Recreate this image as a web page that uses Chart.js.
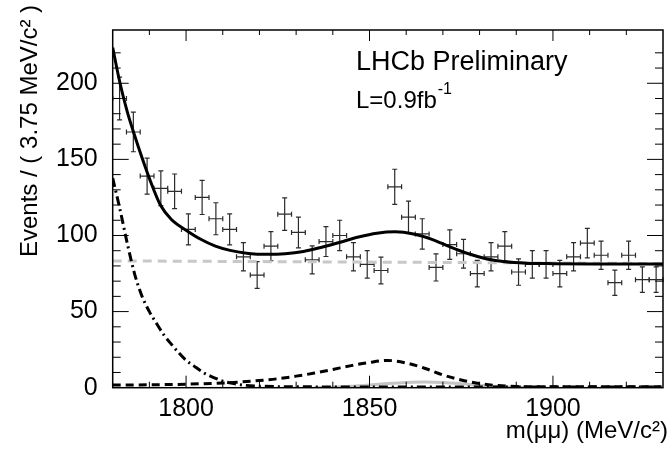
<!DOCTYPE html>
<html>
<head>
<meta charset="utf-8">
<script src="https://cdn.jsdelivr.net/npm/chart.js@4/dist/chart.umd.min.js"></script>
<style>
  html, body { margin: 0; padding: 0; background: #fff; }
  #wrap { width: 669px; height: 449px; }
</style>
</head>
<body>
<div id="wrap"><canvas id="massChart"></canvas></div>
<script>
// binned data, 3.75 MeV bins
const binCenters = [1781.875, 1785.625, 1789.375, 1793.125, 1796.875, 1800.625, 1804.375, 1808.125,
  1811.875, 1815.625, 1819.375, 1823.125, 1826.875, 1830.625, 1834.375, 1838.125, 1841.875, 1845.625,
  1849.375, 1853.125, 1856.875, 1860.625, 1864.375, 1868.125, 1871.875, 1875.625, 1879.375, 1883.125,
  1886.875, 1890.625, 1894.375, 1898.125, 1901.875, 1905.625, 1909.375, 1913.125, 1916.875, 1920.625,
  1924.375, 1928.125];
const binHalf = 1.875;
const events = [190, 168, 139, 131, 129, 104, 125, 111, 104, 86, 74, 93, 114, 102, 84, 96, 100, 86, 81, 77,
  132, 112, 101, 79, 94, 88, 75, 86, 93, 76, 81, 81, 75, 86, 95, 87, 69, 87, 71, 71];
const errors = [14, 13, 11.8, 11.4, 11.4, 10.2, 11.2, 10.5, 10.2, 9.3, 8.8, 9.6, 10.7, 10.1, 9.2, 9.8, 10, 9.3, 9, 8.8,
  11.5, 10.6, 10, 8.9, 9.7, 9.4, 8.7, 9.3, 9.6, 8.7, 9, 9, 8.7, 9.3, 9.7, 9.3, 8.3, 9.3, 8.4, 8.4];

// fit curves
const totalX = [1780, 1782, 1784, 1786, 1788, 1790, 1793, 1796, 1800, 1804, 1808, 1812, 1817, 1822, 1827,
  1832, 1837, 1842, 1847, 1852, 1857, 1862, 1867, 1872, 1877, 1882, 1887, 1893, 1900, 1915, 1930];
const totalY = [223.5, 200, 181, 165.5, 151, 137.5, 120, 110.5, 103.5, 97.5, 93, 90.2, 88.2, 87.6, 88,
  89.5, 92.3, 95.6, 99, 101.5, 102.4, 101, 97.5, 92.5, 88, 84.6, 82.7, 81.8, 81.5, 81.3, 81.2];

const combX = [1780, 1930];
const combY = [83.3, 81.6];

const expoX = [1780, 1782, 1784, 1786, 1788, 1790, 1792, 1794, 1796, 1798, 1800, 1802, 1805, 1808, 1810,
  1813, 1816, 1820, 1830, 1850, 1930];
const expoY = [137.7, 117, 94.5, 74.5, 60, 50, 42, 34.5, 28.5, 23, 18, 14.5, 9.5, 6.2, 4.3,
  2.7, 1.6, 1.0, 0.6, 0.5, 0.5];

const peakX = [1780, 1790, 1800, 1810, 1815, 1820, 1825, 1830, 1835, 1840, 1845, 1850, 1855, 1860, 1865,
  1870, 1875, 1880, 1885, 1890, 1900, 1930];
const peakY = [1.7, 1.9, 2.3, 3.1, 3.8, 4.7, 5.9, 7.6, 9.6, 12, 14.5, 16.6, 17.9, 16.2, 12.8,
  8.4, 5.1, 2.7, 1.4, 0.8, 0.6, 0.6];

const signalX = [1835, 1840, 1845, 1850, 1855, 1860, 1865, 1870, 1875, 1880, 1885, 1890, 1895];
const signalY = [0, 0.3, 0.9, 1.8, 2.7, 3.4, 3.7, 3.4, 2.6, 1.6, 0.8, 0.3, 0];

const FONT = "'Liberation Sans', Arial, Helvetica, sans-serif";

function toPoints(xs, ys) {
  return xs.map((x, i) => ({ x: x, y: ys[i] }));
}

// error bars for the data, drawn through the chart scales
const errorBars = {
  id: "errorBars",
  beforeDatasetsDraw(chart) {
    const ctx = chart.ctx;
    const xs = chart.scales.x;
    const ys = chart.scales.y;
    ctx.save();
    ctx.strokeStyle = "#2b2b2b";
    ctx.lineWidth = 1.2;
    events.forEach((v, i) => {
      const x0 = xs.getPixelForValue(binCenters[i] - binHalf);
      const x1 = xs.getPixelForValue(binCenters[i] + binHalf);
      const xc = xs.getPixelForValue(binCenters[i]);
      const yc = ys.getPixelForValue(v);
      const yTop = ys.getPixelForValue(v + errors[i]);
      const yBot = ys.getPixelForValue(v - errors[i]);
      ctx.beginPath();
      ctx.moveTo(x0, yc); ctx.lineTo(x1, yc);
      ctx.moveTo(xc, yTop); ctx.lineTo(xc, yBot);
      // caps
      ctx.moveTo(xc - 2.5, yTop); ctx.lineTo(xc + 2.5, yTop);
      ctx.moveTo(xc - 2.5, yBot); ctx.lineTo(xc + 2.5, yBot);
      ctx.moveTo(x0, yc - 2.5); ctx.lineTo(x0, yc + 2.5);
      ctx.moveTo(x1, yc - 2.5); ctx.lineTo(x1, yc + 2.5);
      ctx.stroke();
    });
    ctx.restore();
  }
};

// frame with inward ticks, axis titles and the LHCb label
const frameAndText = {
  id: "frameAndText",
  afterDraw(chart) {
    const ctx = chart.ctx;
    const a = chart.chartArea;
    const xs = chart.scales.x;
    const ys = chart.scales.y;
    ctx.save();
    ctx.strokeStyle = "#000";
    ctx.lineWidth = 1;
    ctx.beginPath();
    xs.ticks.forEach((t) => {
      if (t.value <= xs.min || t.value >= xs.max) return;
      const px = xs.getPixelForValue(t.value);
      const major = t.value % 50 === 0;
      ctx.moveTo(px, a.bottom); ctx.lineTo(px, a.bottom - (major ? 12 : 6));
      ctx.moveTo(px, a.top); ctx.lineTo(px, a.top + (major ? 11 : 5));
    });
    ys.ticks.forEach((t) => {
      if (t.value <= ys.min || t.value >= ys.max) return;
      const py = ys.getPixelForValue(t.value);
      const major = t.value % 50 === 0;
      ctx.moveTo(a.left, py); ctx.lineTo(a.left + (major ? 16 : 8), py);
      ctx.moveTo(a.right, py); ctx.lineTo(a.right - (major ? 16 : 8), py);
    });
    ctx.stroke();
    ctx.lineWidth = 1.5;
    ctx.strokeRect(a.left, a.top, a.right - a.left, a.bottom - a.top);

    ctx.fillStyle = "#000";
    ctx.textBaseline = "alphabetic";
    // x title
    ctx.font = "24px " + FONT;
    ctx.textAlign = "right";
    ctx.fillText("m(\u03bc\u03bc) (MeV/c\u00b2)", 668, 438);
    // y title
    ctx.save();
    ctx.translate(37, 257);
    ctx.rotate(-Math.PI / 2);
    ctx.textAlign = "left";
    ctx.fillText("Events / ( 3.75 MeV/c\u00b2 )", 0, 0);
    ctx.restore();
    // label
    ctx.textAlign = "left";
    ctx.font = "27px " + FONT;
    ctx.fillText("LHCb Preliminary", 356, 70);
    ctx.font = "24px " + FONT;
    const lumi = "L=0.9fb";
    ctx.fillText(lumi, 356, 108);
    const w = ctx.measureText(lumi).width;
    ctx.font = "16px " + FONT;
    ctx.fillText("-1", 356 + w + 1, 94);
    ctx.restore();
  }
};

const curveBase = { showLine: true, pointRadius: 0, borderWidth: 3, fill: false, cubicInterpolationMode: "monotone" };

new Chart(document.getElementById("massChart"), {
  type: "scatter",
  data: {
    datasets: [
      Object.assign({}, curveBase, { label: "Total fit", data: toPoints(totalX, totalY), borderColor: "#000", order: 1 }),
      Object.assign({}, curveBase, { label: "Peaking bkg", data: toPoints(peakX, peakY), borderColor: "#000", borderDash: [8, 5], order: 2 }),
      Object.assign({}, curveBase, { label: "Exponential bkg", data: toPoints(expoX, expoY), borderColor: "#000", borderDash: [9, 4, 2, 4], order: 3 }),
      Object.assign({}, curveBase, { label: "Combinatorial", data: toPoints(combX, combY), borderColor: "#c8c8c8", borderDash: [9, 6], order: 4 }),
      Object.assign({}, curveBase, { label: "Signal", data: toPoints(signalX, signalY), borderColor: "#c4c4c4", order: 5 })
    ]
  },
  options: {
    responsive: true,
    maintainAspectRatio: false,
    animation: false,
    devicePixelRatio: 1,
    layout: { padding: { top: 10.7, right: 1, left: 0, bottom: 0 } },
    plugins: { legend: { display: false }, tooltip: { enabled: false } },
    scales: {
      x: {
        type: "linear",
        min: 1780,
        max: 1930,
        grid: { display: false, drawTicks: false },
        border: { display: false },
        ticks: {
          stepSize: 10,
          autoSkip: false,
          maxRotation: 0,
          padding: 6,
          color: "#000",
          font: { size: 25, family: FONT },
          callback: (v) => (v % 50 === 0 ? v : "")
        },
        afterFit: (s) => { s.height = 61.3; }
      },
      y: {
        min: 0,
        max: 235,
        grid: { display: false, drawTicks: false },
        border: { display: false },
        ticks: {
          stepSize: 10,
          autoSkip: false,
          padding: 15,
          color: "#000",
          font: { size: 25, family: FONT },
          callback: (v) => (v % 50 === 0 ? v : "")
        },
        afterFit: (s) => { s.width = 112.7; }
      }
    }
  },
  plugins: [errorBars, frameAndText]
});
</script>
</body>
</html>
